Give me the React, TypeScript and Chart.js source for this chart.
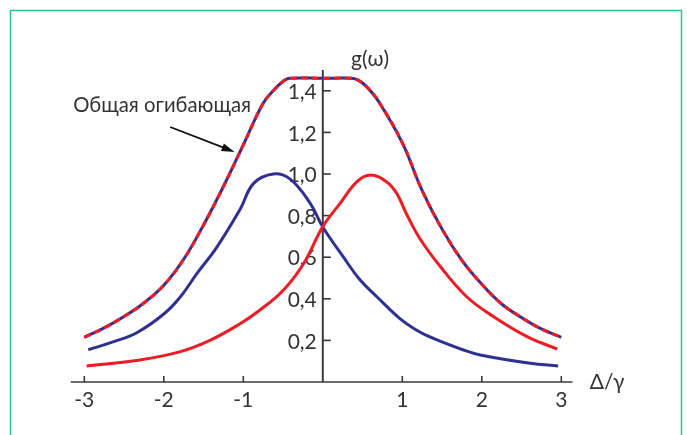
import { useEffect, useRef } from "react";
import { Chart, registerables } from "chart.js";

Chart.register(...registerables);

// Blue contour (peak at Δ/γ ≈ -0.6)
const blueX = [-2.95, -2.63, -2.34, -2.0, -1.79, -1.58, -1.33, -1.04, -0.87, -0.62, -0.41, -0.16, 0.0, 0.26, 0.47, 0.68, 0.97, 1.22, 1.39, 1.77, 1.98, 2.61, 2.96];
const blueY = [0.155, 0.194, 0.237, 0.327, 0.41, 0.523, 0.65, 0.83, 0.955, 1.0, 0.975, 0.86, 0.745, 0.6, 0.49, 0.41, 0.305, 0.24, 0.21, 0.154, 0.13, 0.09, 0.077];

// Red contour (peak at Δ/γ ≈ +0.6)
const redX = [-2.97, -2.3, -1.79, -1.42, -1.04, -0.79, -0.5, -0.24, 0.0, 0.22, 0.43, 0.6, 0.8, 0.93, 1.05, 1.22, 1.48, 1.81, 2.15, 2.57, 2.95];
const redY = [0.077, 0.106, 0.146, 0.2, 0.28, 0.346, 0.44, 0.57, 0.747, 0.86, 0.963, 0.995, 0.963, 0.907, 0.81, 0.69, 0.554, 0.41, 0.314, 0.218, 0.158];

// Common envelope
const envX = [-3.0, -2.75, -2.5, -2.25, -2.0, -1.75, -1.5, -1.25, -1.0, -0.75, -0.6, -0.5, -0.42, 0.0, 0.36, 0.45, 0.55, 0.7, 1.0, 1.25, 1.5, 1.75, 2.0, 2.25, 2.5, 2.75, 3.0];
const envY = [0.215, 0.26, 0.315, 0.38, 0.465, 0.59, 0.755, 0.94, 1.14, 1.34, 1.41, 1.445, 1.46, 1.46, 1.46, 1.45, 1.42, 1.35, 1.15, 0.92, 0.735, 0.585, 0.47, 0.375, 0.31, 0.255, 0.215];

const xTicks = [-3, -2, -1, 1, 2, 3];
const yTicks = [0.2, 0.4, 0.6, 0.8, 1.0, 1.2, 1.4];
const xTickLabels = ["-3", "-2", "-1", "1", "2", "3"];
const yTickLabels = ["0,2", "0,4", "0,6", "0,8", "1,0", "1,2", "1,4"];

const yAxisLabel = "g(ω)";
const xAxisLabel = "Δ/γ";
const envelopeNote = "Общая огибающая";

const BLUE = "#2e3192";
const RED = "#ee1c25";
const INK = "#333333";
const FONT = "Lato, 'DejaVu Sans', sans-serif";

const pts = (xs: number[], ys: number[]) => xs.map((x, i) => ({ x, y: ys[i] }));

const axesPlugin = {
  id: "axesAndNotes",
  beforeDraw(chart: any) {
    const { ctx, width, height } = chart;
    ctx.save();
    ctx.fillStyle = "#ffffff";
    ctx.fillRect(0, 0, width, height);
    ctx.strokeStyle = "#2cc195";
    ctx.lineWidth = 1.5;
    ctx.strokeRect(10.5, 10.5, 671, height + 20);
    ctx.restore();
  },
  beforeDatasetsDraw(chart: any) {
    const { ctx } = chart;
    const xs = chart.scales.x;
    const ys = chart.scales.y;
    const x0 = xs.getPixelForValue(0);
    const y0 = ys.getPixelForValue(0);
    ctx.save();
    ctx.strokeStyle = "#3a3a3a";
    // horizontal axis
    ctx.lineWidth = 1.6;
    ctx.beginPath();
    ctx.moveTo(xs.getPixelForValue(-3.17), y0);
    ctx.lineTo(xs.getPixelForValue(3.14), y0);
    ctx.stroke();
    // vertical axis
    ctx.lineWidth = 2;
    ctx.beginPath();
    ctx.moveTo(x0, y0);
    ctx.lineTo(x0, ys.getPixelForValue(1.5));
    ctx.stroke();
    // tick marks
    ctx.lineWidth = 1.6;
    xTicks.forEach((v) => {
      const px = xs.getPixelForValue(v);
      ctx.beginPath();
      ctx.moveTo(px, y0);
      ctx.lineTo(px, y0 - 6);
      ctx.stroke();
    });
    yTicks.forEach((v) => {
      const py = ys.getPixelForValue(v);
      ctx.beginPath();
      ctx.moveTo(x0, py);
      ctx.lineTo(x0 + 8, py);
      ctx.stroke();
    });
    // tick labels
    ctx.fillStyle = INK;
    ctx.font = `21px ${FONT}`;
    ctx.textBaseline = "middle";
    ctx.textAlign = "center";
    xTicks.forEach((v, i) => {
      ctx.fillText(xTickLabels[i], xs.getPixelForValue(v), y0 + 18);
    });
    ctx.textAlign = "right";
    yTicks.forEach((v, i) => {
      ctx.fillText(yTickLabels[i], x0 - 6, ys.getPixelForValue(v) + 1.5);
    });
    // axis titles
    ctx.font = `21px ${FONT}`;
    ctx.textAlign = "center";
    ctx.fillText(yAxisLabel, xs.getPixelForValue(0.595), ys.getPixelForValue(1.553));
    ctx.fillText(xAxisLabel, xs.getPixelForValue(3.576), y0);
    ctx.restore();
  },
  afterDraw(chart: any) {
    const { ctx } = chart;
    const xs = chart.scales.x;
    const ys = chart.scales.y;
    ctx.save();
    ctx.fillStyle = INK;
    ctx.font = `20px ${FONT}`;
    const w = ctx.measureText(envelopeNote).width;
    const size = Math.min(22, (20 * 178) / w);
    ctx.font = `${size}px ${FONT}`;
    ctx.textAlign = "left";
    ctx.textBaseline = "middle";
    ctx.fillText(envelopeNote, xs.getPixelForValue(-3.14), ys.getPixelForValue(1.33));
    // arrow pointing at the envelope
    const sx = xs.getPixelForValue(-1.92);
    const sy = ys.getPixelForValue(1.226);
    const ex = xs.getPixelForValue(-1.11);
    const ey = ys.getPixelForValue(1.106);
    const ang = Math.atan2(ey - sy, ex - sx);
    const head = 13;
    ctx.strokeStyle = "#111111";
    ctx.fillStyle = "#111111";
    ctx.lineWidth = 1.8;
    ctx.beginPath();
    ctx.moveTo(sx, sy);
    ctx.lineTo(ex - Math.cos(ang) * head * 0.8, ey - Math.sin(ang) * head * 0.8);
    ctx.stroke();
    ctx.beginPath();
    ctx.moveTo(ex, ey);
    ctx.lineTo(ex - Math.cos(ang) * head + Math.sin(ang) * 4, ey - Math.sin(ang) * head - Math.cos(ang) * 4);
    ctx.lineTo(ex - Math.cos(ang) * head - Math.sin(ang) * 4, ey - Math.sin(ang) * head + Math.cos(ang) * 4);
    ctx.closePath();
    ctx.fill();
    ctx.restore();
  },
};

export default function App() {
  const ref = useRef<HTMLCanvasElement | null>(null);

  useEffect(() => {
    if (!ref.current) return;
    const line = {
      pointRadius: 0,
      borderWidth: 3,
      fill: false,
      tension: 0.4,
      clip: false as any,
    };
    const chart = new Chart(ref.current, {
      type: "line",
      data: {
        datasets: [
          { ...line, label: "envelope-dash", data: pts(envX, envY), borderColor: RED, borderDash: [7, 4], order: 0 },
          { ...line, label: "envelope", data: pts(envX, envY), borderColor: BLUE, order: 1 },
          { ...line, label: "red", data: pts(redX, redY), borderColor: RED, order: 2 },
          { ...line, label: "blue", data: pts(blueX, blueY), borderColor: BLUE, order: 3 },
        ],
      },
      options: {
        responsive: false,
        animation: false,
        events: [],
        layout: { padding: { left: 84.3, right: 125.7, top: 49.2, bottom: 53 } },
        plugins: { legend: { display: false }, tooltip: { enabled: false } },
        scales: {
          x: { type: "linear", min: -3, max: 3, display: false },
          y: { type: "linear", min: 0, max: 1.6, display: false },
        },
      },
      plugins: [axesPlugin],
    });
    return () => chart.destroy();
  }, []);

  return (
    <div style={{ position: "absolute", left: 0, top: 0, width: 687, height: 435 }}>
      <canvas ref={ref} width={687} height={435} style={{ display: "block", width: 687, height: 435 }} />
    </div>
  );
}
